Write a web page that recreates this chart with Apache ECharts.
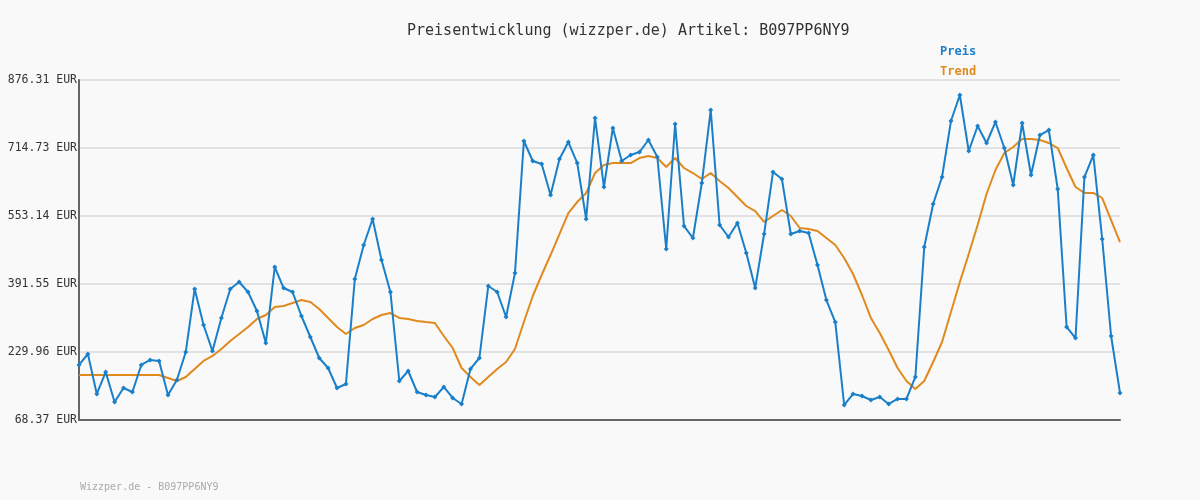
<!DOCTYPE html>
<html>
<head>
<meta charset="utf-8">
<script src="https://cdn.jsdelivr.net/npm/echarts@6/dist/echarts.min.js"></script>
<style>html,body{margin:0;padding:0;background:#f9f9f9}#main{width:1200px;height:500px}</style>
</head>
<body>
<div id="main"></div>
<script>
var myChart = echarts.init(document.getElementById('main'));

// Preis je Messpunkt (EUR)
var preis = [199.1, 225.2, 130.2, 182.4, 111.2, 144.4, 134.9, 199.1, 211.0, 208.6,
    127.8, 163.4, 230.0, 379.7, 294.1, 232.3, 310.8, 379.7, 396.3, 372.5,
    327.4, 251.4, 431.9, 382.0, 372.5, 315.5, 265.6, 215.7, 192.0, 144.4,
    153.9, 403.4, 484.2, 546.0, 448.6, 372.5, 161.1, 184.8, 134.9, 127.8,
    123.0, 146.8, 120.7, 106.4, 189.6, 215.7, 386.8, 372.5, 313.1, 417.7,
    731.3, 683.8, 676.7, 603.0, 688.5, 728.9, 679.0, 546.0, 786.0, 622.0,
    762.2, 683.8, 698.0, 705.2, 733.7, 693.3, 474.7, 771.7, 529.3, 500.8,
    631.5, 805.0, 531.7, 503.2, 536.5, 465.2, 382.0, 510.3, 657.6, 641.0,
    510.3, 517.5, 512.7, 436.7, 353.5, 301.2, 104.0, 130.2, 125.4, 115.9,
    123.0, 106.4, 118.3, 118.3, 170.6, 479.4, 581.6, 645.8, 778.8, 840.6,
    707.5, 767.0, 726.6, 776.4, 714.7, 626.8, 774.1, 650.5, 745.6, 757.4,
    617.3, 289.4, 263.2, 645.8, 698.0, 498.5, 268.0, 132.6];

// Trend (gleitender Durchschnitt)
var trend = [175.3, 175.3, 175.3, 175.3, 175.3, 175.3, 175.3, 175.3, 175.3, 175.3,
    168.2, 161.1, 170.6, 189.6, 208.6, 220.5, 237.1, 256.1, 272.7, 289.4,
    308.4, 317.9, 336.9, 339.3, 346.4, 353.5, 348.8, 332.1, 310.8, 289.4,
    272.7, 287.0, 294.1, 308.4, 317.9, 322.6, 310.8, 308.4, 303.6, 301.2,
    298.9, 268.0, 239.5, 192.0, 170.6, 151.6, 170.6, 189.6, 206.2, 237.1,
    301.2, 363.0, 412.9, 460.4, 510.3, 560.2, 586.4, 607.8, 655.3, 674.3,
    679.0, 679.0, 679.0, 690.9, 695.7, 690.9, 669.5, 690.9, 667.2, 655.3,
    641.0, 655.3, 636.3, 619.6, 598.2, 576.9, 565.0, 538.9, 553.1, 567.4,
    553.1, 524.6, 522.2, 517.5, 500.8, 484.2, 453.3, 415.3, 365.4, 310.8,
    275.1, 234.7, 192.0, 161.1, 142.1, 161.1, 206.2, 253.7, 325.0, 396.3,
    462.8, 531.7, 605.4, 662.4, 702.8, 717.0, 736.1, 736.1, 733.7, 726.6,
    714.7, 667.2, 622.0, 607.8, 607.8, 595.9, 543.6, 491.3];

// Beschriftung der y-Achse (von unten nach oben)
var yLabels = ['68.37', '229.96', '391.55', '553.14', '714.73', '876.31'];

var yMin = 68.37;
var yMax = 876.31;
var yStep = (yMax - yMin) / 5;

var kategorien = [];
for (var i = 0; i < preis.length; i++) {
    kategorien.push(String(i + 1));
}

var mono = 'DejaVu Sans Mono';

option = {
    backgroundColor: '#f9f9f9',
    animation: false,
    title: {
        text: 'Preisentwicklung (wizzper.de) Artikel: B097PP6NY9',
        left: 402,
        top: 19,
        textStyle: {fontFamily: mono, fontSize: 15, fontWeight: 'normal', color: '#333'}
    },
    legend: {
        orient: 'vertical',
        left: 930,
        top: 40,
        icon: 'none',
        itemWidth: 0,
        itemGap: 7,
        textStyle: {fontFamily: mono, fontSize: 12, fontWeight: 'bold'},
        data: [
            {name: 'Preis', textStyle: {color: '#1a7fc9'}},
            {name: 'Trend', textStyle: {color: '#e08a1e'}}
        ]
    },
    graphic: [{
        type: 'text',
        left: 80,
        top: 482,
        style: {text: 'Wizzper.de - B097PP6NY9', fill: '#aaa', font: '10px "DejaVu Sans Mono"'}
    }],
    grid: {left: 79, right: 80, top: 80, bottom: 80},
    xAxis: {
        type: 'category',
        data: kategorien,
        boundaryGap: false,
        axisTick: {show: false},
        axisLabel: {show: false},
        axisLine: {lineStyle: {color: '#666', width: 2}}
    },
    yAxis: {
        type: 'value',
        min: yMin,
        max: yMax,
        interval: yStep,
        axisLine: {show: true, lineStyle: {color: '#666', width: 2}},
        axisTick: {show: false},
        axisLabel: {
            fontFamily: mono, fontSize: 11.5, color: '#333', margin: 2,
            formatter: function(v) {
                var k = Math.round((v - yMin) / yStep);
                return yLabels[k] + ' EUR';
            }
        },
        splitLine: {lineStyle: {color: '#e2e2e2', width: 2}}
    },
    series: [{
        name: 'Preis',
        type: 'line',
        data: preis,
        symbol: 'diamond',
        symbolSize: 5,
        lineStyle: {color: '#1a7fc9', width: 2},
        itemStyle: {color: '#1a7fc9'},
        z: 3
    }, {
        name: 'Trend',
        type: 'line',
        data: trend,
        showSymbol: false,
        lineStyle: {color: '#e08a1e', width: 2},
        itemStyle: {color: '#e08a1e'},
        z: 2
    }]
};

myChart.setOption(option);
</script>
</body>
</html>
